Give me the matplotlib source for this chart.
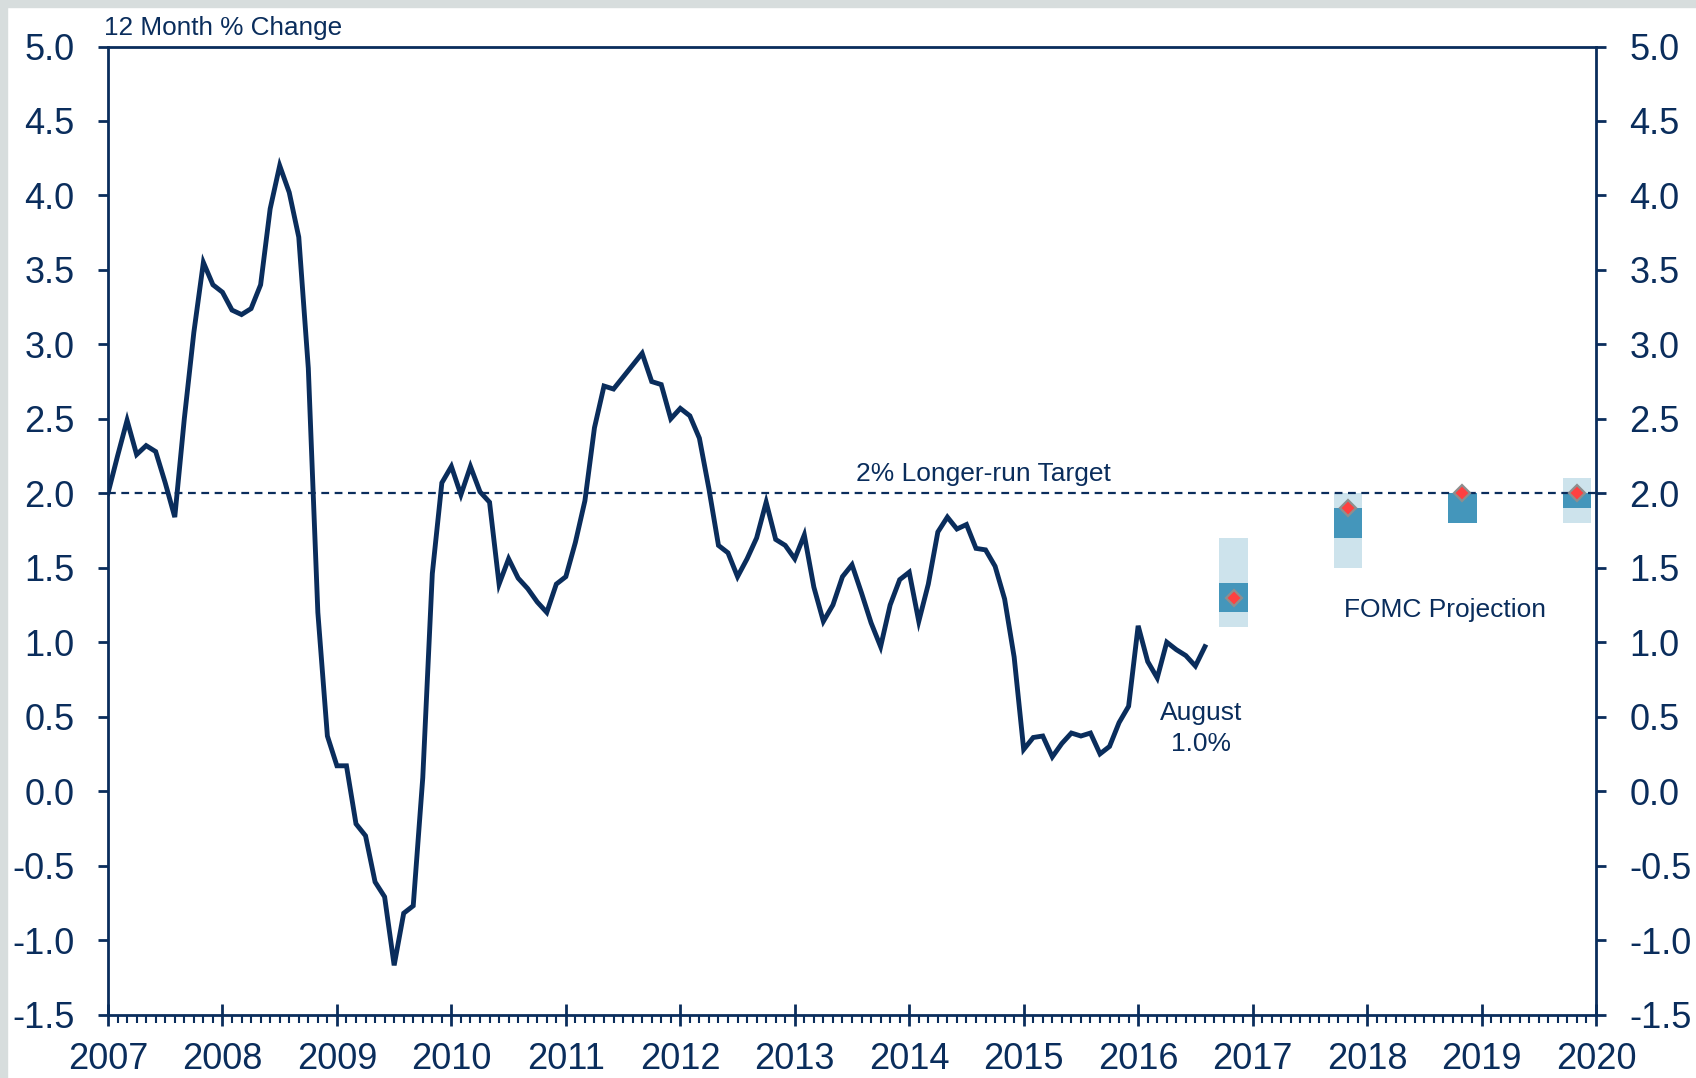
import numpy as np
import matplotlib.pyplot as plt
from matplotlib.ticker import MultipleLocator, FixedLocator
from matplotlib.patches import Rectangle

plt.rcParams['font.family'] = ['Liberation Sans', 'DejaVu Sans']

navy = '#0a2d5c'

# PCE price index, 12 month % change, monthly from Jan 2007 to Aug 2016
start_year = 2007
pce = [2.00, 2.25, 2.49, 2.26, 2.32, 2.28, 2.07, 1.84, 2.50, 3.08, 3.55, 3.40,
       3.35, 3.23, 3.20, 3.24, 3.40, 3.91, 4.20, 4.02, 3.72, 2.84, 1.20, 0.37,
       0.17, 0.17, -0.22, -0.30, -0.61, -0.71, -1.17, -0.82, -0.77, 0.09, 1.46, 2.07,
       2.18, 1.99, 2.18, 2.01, 1.94, 1.39, 1.56, 1.43, 1.36, 1.27, 1.20, 1.39,
       1.44, 1.67, 1.95, 2.44, 2.72, 2.70, 2.78, 2.86, 2.94, 2.75, 2.73, 2.50,
       2.57, 2.52, 2.37, 2.03, 1.65, 1.60, 1.44, 1.56, 1.70, 1.94, 1.69, 1.65,
       1.56, 1.72, 1.37, 1.14, 1.25, 1.44, 1.52, 1.33, 1.13, 0.97, 1.25, 1.42,
       1.47, 1.14, 1.39, 1.74, 1.84, 1.76, 1.79, 1.63, 1.62, 1.51, 1.29, 0.90,
       0.28, 0.36, 0.37, 0.23, 0.32, 0.39, 0.37, 0.39, 0.25, 0.30, 0.46, 0.57,
       1.11, 0.87, 0.76, 1.00, 0.95, 0.91, 0.84, 0.97]

# FOMC projections (Sep 2016)
proj_years = [2016, 2017, 2018, 2019]
range_low = [1.1, 1.5, 1.8, 1.8]
range_high = [1.7, 2.0, 2.0, 2.1]
ct_low = [1.2, 1.7, 1.8, 1.9]
ct_high = [1.4, 1.9, 2.0, 2.0]
median = [1.3, 1.9, 2.0, 2.0]

target = 2.0
year_ticks = list(range(2007, 2021))
y_ticks = np.arange(-1.5, 5.01, 0.5)

fig = plt.figure(figsize=(16.96, 10.78), dpi=100)
ax = fig.add_axes([108 / 1696, 1 - 1014.5 / 1078, 1488 / 1696, 968 / 1078])

# grey frame on top and left
fig.patches.append(Rectangle((0, 1 - 7 / 1078), 1, 7 / 1078, transform=fig.transFigure,
                             color='#d7dddd', zorder=0))
fig.patches.append(Rectangle((0, 0), 7 / 1696, 1, transform=fig.transFigure,
                             color='#d7dddd', zorder=0))

months = start_year + np.arange(len(pce)) / 12
ax.plot(months, pce, color=navy, lw=3.5, solid_joinstyle='miter', zorder=4)

xp = np.array(proj_years) + 10 / 12
ax.bar(xp, np.array(range_high) - np.array(range_low), bottom=range_low, width=0.25,
       color='#cde3ec', zorder=2)
ax.bar(xp, np.array(ct_high) - np.array(ct_low), bottom=ct_low, width=0.25,
       color='#4496bb', zorder=2.5)
ax.axhline(target, color=navy, lw=1.6, ls=(0, (3.5, 2.5)), zorder=3)
ax.plot(xp, median, ls='none', marker='D', ms=8.5, color='#ff4040',
        mec='#8e8e8e', mew=1.6, zorder=5)

ax.text(2014.65, 2.08, '2% Longer-run Target', ha='center', va='baseline',
        fontsize=19, color=navy)
ax.text(2018.68, 1.17, 'FOMC Projection', ha='center', va='baseline',
        fontsize=19, color=navy)
ax.text(2016.55, 0.475, 'August', ha='center', va='baseline', fontsize=19, color=navy)
ax.text(2016.55, 0.27, '1.0%', ha='center', va='baseline', fontsize=19, color=navy)
fig.text(104 / 1696, 1 - 35 / 1078, '12 Month % Change', ha='left', va='baseline',
         fontsize=18.8, color=navy)

ax.set_xlim(2007, 2020)
ax.set_ylim(-1.5, 5.0)
ax.xaxis.set_major_locator(FixedLocator(year_ticks))
ax.set_xticklabels([str(y) for y in year_ticks])
ax.xaxis.set_minor_locator(MultipleLocator(1 / 12))
ax.set_yticks(y_ticks)
ax.set_yticklabels(['%.1f' % v for v in y_ticks])

for s in ax.spines.values():
    s.set_color(navy)
    s.set_linewidth(2)

ax.tick_params(axis='y', which='major', left=True, right=True, labelleft=True,
               labelright=True, direction='out', length=7, width=2, color=navy,
               labelcolor=navy, labelsize=26, pad=17)
ax.tick_params(axis='x', which='major', direction='inout', length=16, width=2,
               color=navy, labelcolor=navy, labelsize=26, pad=12)
ax.tick_params(axis='x', which='minor', direction='out', length=6, width=1.5,
               color=navy)

fig.savefig('out.png', dpi=100, facecolor='white')
